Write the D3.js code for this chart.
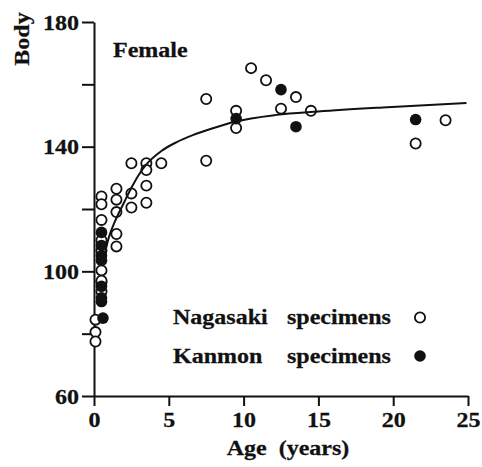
<!DOCTYPE html>
<html>
<head>
<meta charset="utf-8">
<script src="https://cdn.jsdelivr.net/npm/d3@7"></script>
<style>
  body { margin: 0; background: #fff; }
  text { font-family: "Liberation Serif", "Times New Roman", serif; font-weight: bold; fill: #111; stroke: #111; stroke-width: 0.3px; }
</style>
</head>
<body>
<div id="chart"></div>
<script>
// Nagasaki specimens (open circles)
var nagasakiAge  = [0.1, 0.1, 0.1,
                    0.5, 0.5, 0.5, 0.5, 0.5, 0.5, 0.5, 0.5, 0.5,
                    1.5, 1.5, 1.5, 1.5, 1.5,
                    2.5, 2.5, 2.5,
                    3.5, 3.5, 3.5, 3.5,
                    4.5, 7.5, 7.5, 9.5, 9.5, 10.5, 11.5, 12.5, 13.5, 14.5, 21.5, 23.5];
var nagasakiBody = [84.5, 80.5, 77.5,
                    124, 121.5, 116.5, 110, 106.7, 100.3, 96.5, 93.5, 97,
                    126.5, 123, 119, 112, 108,
                    134.7, 125, 120.5,
                    134.7, 132.5, 127.5, 122,
                    134.7, 155.3, 135.5, 151.5, 146, 165.2, 161.3, 152.2, 155.9, 151.5, 141, 148.5];

// Kanmon specimens (filled circles)
var kanmonAge  = [0.5, 0.5, 0.5, 0.5, 0.5, 0.5, 0.5, 0.6, 9.5, 12.5, 13.5, 21.5];
var kanmonBody = [112.5, 108.3, 105, 103.5, 95.2, 91.5, 90.3, 85, 149, 158.3, 146.4, 148.7];

// growth curve
var curveAge  = [0.6, 1.0, 1.4, 2.0, 2.5, 3.0, 3.5, 4.5, 5.5, 6.6, 8, 9.4, 12.2, 15, 19.3, 24.9];
var curveBody = [103, 111, 116, 122, 126.8, 131, 134.3, 138.6, 141.4, 143.7, 146, 148, 150.2, 151.3, 152.6, 154];

var xTicks = [0, 5, 10, 15, 20, 25];
var yTicks = [60, 80, 100, 120, 140, 160, 180];
var yLabels = [60, 100, 140, 180];

var W = 482, H = 467;
var margin = {top: 22, right: 14, bottom: 71, left: 94};
var SQ = 0.87; // glyphs in the picture are squashed vertically

var svg = d3.select("#chart").append("svg")
  .attr("width", W).attr("height", H);

var x = d3.scaleLinear().domain([0, 25]).range([margin.left, W - margin.right]);
var y = d3.scaleLinear().domain([60, 180]).range([H - margin.bottom, margin.top]);

function label(txt, px, py, anchor, rot) {
  var t = svg.append("text")
    .attr("text-anchor", anchor || "start")
    .attr("font-size", 24)
    .attr("transform", "translate(" + px + "," + py + ")" + (rot ? " rotate(" + rot + ")" : "") + " scale(1," + SQ + ")")
    .text(txt);
  return t;
}

// axes
var gx = svg.append("g")
  .attr("transform", "translate(0," + y(60) + ")")
  .call(d3.axisBottom(x).tickValues(xTicks).tickSize(10).tickSizeOuter(0));
var gy = svg.append("g")
  .attr("transform", "translate(" + x(0) + ",0)")
  .call(d3.axisLeft(y).tickValues(yTicks).tickSize(12).tickSizeOuter(0)
    .tickFormat(function(d) { return yLabels.indexOf(d) >= 0 ? d : ""; }));

svg.selectAll(".domain").attr("stroke", "#111").attr("stroke-width", 2);
svg.selectAll(".tick line").attr("stroke", "#111").attr("stroke-width", 2);

gx.selectAll(".tick text")
  .attr("font-size", 24).attr("font-family", null)
  .attr("y", null).attr("dy", null)
  .attr("transform", "translate(0,31) scale(1," + SQ + ")");
gy.selectAll(".tick text")
  .attr("font-size", 24).attr("font-family", null)
  .attr("x", null).attr("dy", null)
  .attr("transform", "translate(-15,7) scale(1," + SQ + ")");

// open circles
svg.append("g").selectAll("circle")
  .data(nagasakiAge.map(function(a, i) { return [a, nagasakiBody[i]]; }))
  .enter().append("circle")
  .attr("cx", function(d) { return x(d[0]); })
  .attr("cy", function(d) { return y(d[1]); })
  .attr("r", 5.1)
  .attr("fill", "#fff")
  .attr("stroke", "#111")
  .attr("stroke-width", 1.8);

// filled circles
svg.append("g").selectAll("circle")
  .data(kanmonAge.map(function(a, i) { return [a, kanmonBody[i]]; }))
  .enter().append("circle")
  .attr("cx", function(d) { return x(d[0]); })
  .attr("cy", function(d) { return y(d[1]); })
  .attr("r", 5.8)
  .attr("fill", "#111");

// fitted curve
var line = d3.line()
  .x(function(d) { return x(d[0]); })
  .y(function(d) { return y(d[1]); })
  .curve(d3.curveMonotoneX);

svg.append("path")
  .datum(curveAge.map(function(a, i) { return [a, curveBody[i]]; }))
  .attr("d", line)
  .attr("fill", "none")
  .attr("stroke", "#111")
  .attr("stroke-width", 2);

// texts
label("Body", 29, 39, "middle", -90);
label("Female", 113, 57);
label("Age  (years)", 288, 455, "middle").style("white-space", "pre");

label("Nagasaki", 173, 324);
label("specimens", 287, 324);
label("Kanmon", 173, 363);
label("specimens", 287, 363);

svg.append("circle").attr("cx", 420).attr("cy", 317.5).attr("r", 5.1)
  .attr("fill", "#fff").attr("stroke", "#111").attr("stroke-width", 1.8);
svg.append("circle").attr("cx", 420).attr("cy", 356).attr("r", 5.8)
  .attr("fill", "#111");
</script>
</body>
</html>
